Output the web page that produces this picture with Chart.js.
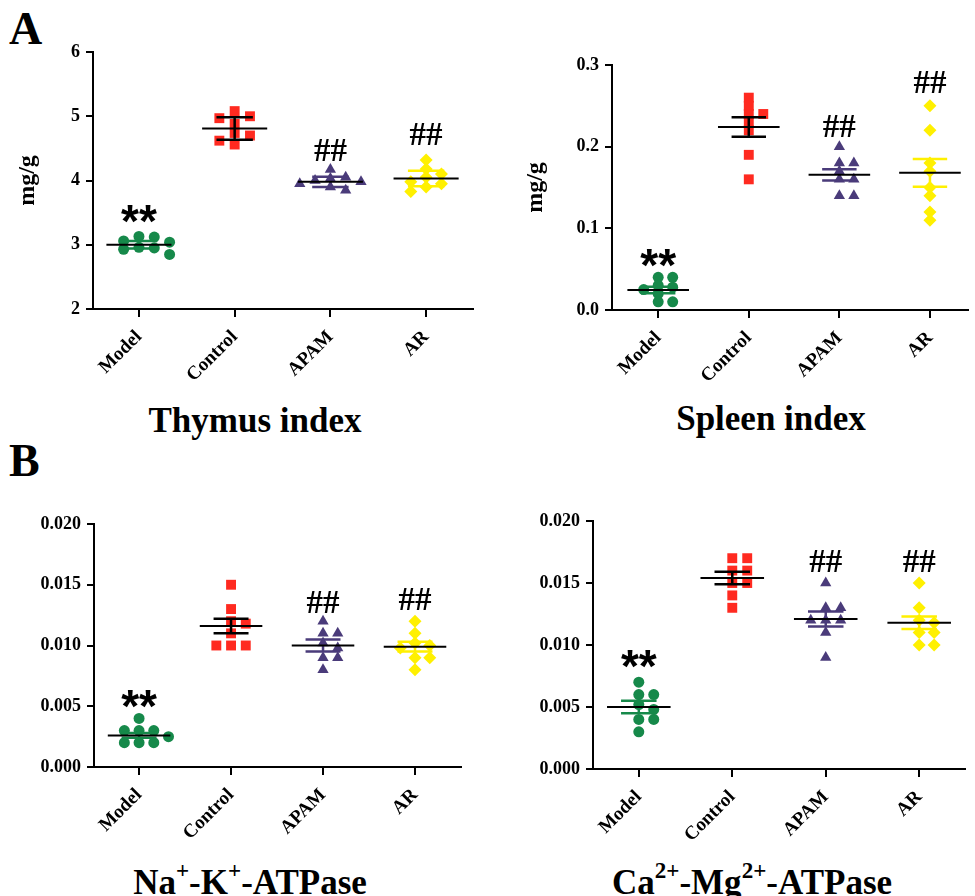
<!DOCTYPE html>
<html>
<head>
<meta charset="UTF-8">
<title>Organ index and ATPase</title>
<script src="https://cdn.jsdelivr.net/npm/chart.js"></script>
<style>
  body { margin: 0; background: #fff; }
  #page { position: relative; width: 975px; height: 896px; overflow: hidden;
          font-family: "Liberation Serif", serif; font-weight: bold; color: #000; }
  canvas { position: absolute; }
  .letter { position: absolute; font-size: 46px; line-height: 50px; }
  .title { position: absolute; font-size: 35px; line-height: 40px; text-align: center; white-space: nowrap; }
  .title sup { font-size: 0.66em; position: relative; top: -0.15em; vertical-align: super; line-height: 0; }
</style>
</head>
<body>
<div id="page">
    <div class="letter" style="left:9px; top:4px;">A</div>
    <div class="letter" style="left:9px; top:436px;">B</div>

    <canvas id="thymus" width="480" height="360" style="left:0px; top:30px;"></canvas>
    <canvas id="spleen" width="485" height="360" style="left:490px; top:30px;"></canvas>
    <canvas id="nak" width="480" height="360" style="left:0px; top:490px;"></canvas>
    <canvas id="camg" width="485" height="360" style="left:490px; top:490px;"></canvas>

    <div class="title" style="left:105px; width:300px; top:401px;">Thymus index</div>
    <div class="title" style="left:621px; width:300px; top:399px;">Spleen index</div>
    <div class="title" style="left:80px; width:340px; top:863px;">Na<sup>+</sup>-K<sup>+</sup>-ATPase</div>
    <div class="title" style="left:572px; width:360px; top:863px;">Ca<sup>2+</sup>-Mg<sup>2+</sup>-ATPase</div>
</div>

<script>
    const categories = ['Model', 'Control', 'APAM', 'AR'];

    // Thymus index (mg/g)
    const thymusModel   = [3.13, 3.12, 3.06, 3.04, 2.96, 2.95, 2.93, 2.85];
    const thymusControl = [5.08, 5.00, 4.97, 4.88, 4.74, 4.70, 4.62, 4.56];
    const thymusApam    = [4.17, 4.05, 4.03, 4.00, 3.98, 3.95, 3.90, 3.85];
    const thymusAr      = [4.32, 4.18, 4.10, 4.05, 3.98, 3.95, 3.90, 3.83];
    const thymusMean    = [3.00, 4.81, 3.98, 4.03];
    const thymusSem     = [0.06, 0.175, 0.08, 0.12];
    const thymusMarkY   = [3.48, null, 4.47, 4.73];

    // Spleen index (mg/g)
    const spleenModel   = [0.040, 0.040, 0.030, 0.028, 0.025, 0.020, 0.010, 0.010];
    const spleenControl = [0.26, 0.25, 0.24, 0.24, 0.23, 0.22, 0.19, 0.16];
    const spleenApam    = [0.20, 0.18, 0.18, 0.17, 0.16, 0.16, 0.14, 0.14];
    const spleenAr      = [0.25, 0.22, 0.18, 0.17, 0.15, 0.14, 0.12, 0.11];
    const spleenMean    = [0.0245, 0.224, 0.1655, 0.168];
    const spleenSem     = [0.004, 0.012, 0.007, 0.017];
    const spleenMarkY   = [0.064, null, 0.225, 0.279];

    // Na+-K+-ATPase
    const nakModel   = [0.0040, 0.0030, 0.0030, 0.0030, 0.0025, 0.0020, 0.0020, 0.0020];
    const nakControl = [0.0150, 0.0130, 0.0120, 0.0118, 0.0110, 0.0100, 0.0100, 0.0100];
    const nakApam    = [0.0120, 0.0110, 0.0110, 0.0102, 0.0098, 0.0090, 0.0090, 0.0080];
    const nakAr      = [0.0120, 0.0110, 0.0102, 0.0100, 0.0098, 0.0090, 0.0090, 0.0080];
    const nakMean    = [0.0026, 0.0116, 0.0100, 0.0099];
    const nakSem     = [0.0002, 0.0006, 0.0005, 0.0004];
    const nakMarkY   = [0.0056, null, 0.0136, 0.0138];

    // Ca2+-Mg2+-ATPase
    const camgModel   = [0.0070, 0.0060, 0.0060, 0.0052, 0.0048, 0.0040, 0.0040, 0.0030];
    const camgControl = [0.0170, 0.0170, 0.0160, 0.0160, 0.0150, 0.0150, 0.0140, 0.0130];
    const camgApam    = [0.0150, 0.0130, 0.0130, 0.0120, 0.0120, 0.0120, 0.0110, 0.0090];
    const camgAr      = [0.0150, 0.0130, 0.0120, 0.0118, 0.0110, 0.0110, 0.0100, 0.0100];
    const camgMean    = [0.0050, 0.0154, 0.0121, 0.0118];
    const camgSem     = [0.0005, 0.0005, 0.0006, 0.0005];
    const camgMarkY   = [0.0089, null, 0.0168, 0.0168];

    const marks = ['**', '', '##', '##'];

    const pointColors = ['#16894a', '#ff2a20', '#4a3b7a', '#fff000'];
    const errColors = ['#16894a', '#000000', '#4a3b7a', '#fff000'];
    const pointStyles = ['circle', 'rect', 'triangle', 'rectRot'];
    const pointSizes = [5.5, 7, 6.5, 6.5];
    const serif = '"Liberation Serif", serif';

    // spread points sideways where they would overlap (simple beeswarm)
    function swarm(values, gi, yRange) {
        const step = 0.16;
        const tol = yRange * 0.032;
        const placed = [];
        const order = values.map((v, i) => i).sort((a, b) => values[b] - values[a]);
        order.forEach(i => {
            const v = values[i];
            let spot = null;
            for (const k of [0, 1, -1, 2, -2]) {
                const x = k * step;
                const hit = placed.some(p => Math.abs(p.y - v) < tol && Math.abs(p.dx - x) < step * 0.9);
                if (!hit) { spot = x; break; }
            }
            if (spot === null) spot = (placed.length % 2 ? 0.5 : -0.5) * step;
            placed.push({ dx: spot, y: v });
        });
        return placed.map(p => ({ x: gi + p.dx, y: p.y }));
    }

    const summaryPlugin = {
        id: 'summary',
        afterDatasetsDraw(chart, args, opts) {
            const xs = chart.scales.x, ys = chart.scales.y, ctx = chart.ctx;
            ctx.save();
            opts.mean.forEach((m, i) => {
                const cx = xs.getPixelForValue(i);
                const hw = xs.getPixelForValue(i + 0.34) - cx;
                const cw = xs.getPixelForValue(i + 0.19) - cx;
                const yt = ys.getPixelForValue(m + opts.sem[i]);
                const yb = ys.getPixelForValue(m - opts.sem[i]);
                ctx.strokeStyle = errColors[i];
                ctx.lineWidth = 2.5;
                ctx.beginPath();
                ctx.moveTo(cx, yt); ctx.lineTo(cx, yb);
                ctx.moveTo(cx - cw, yt); ctx.lineTo(cx + cw, yt);
                ctx.moveTo(cx - cw, yb); ctx.lineTo(cx + cw, yb);
                ctx.stroke();
                const ym = ys.getPixelForValue(m);
                ctx.strokeStyle = '#000';
                ctx.lineWidth = 2;
                ctx.beginPath();
                ctx.moveTo(cx - hw, ym); ctx.lineTo(cx + hw, ym);
                ctx.stroke();
            });
            ctx.fillStyle = '#000';
            ctx.textAlign = 'center';
            opts.markY.forEach((v, i) => {
                if (v === null) return;
                const txt = marks[i];
                ctx.font = txt === '**' ? 'bold 46px "Liberation Sans", sans-serif' : 'bold 33px ' + serif;
                const mt = ctx.measureText(txt);
                const yc = ys.getPixelForValue(v);
                const yb = yc + (mt.actualBoundingBoxAscent - mt.actualBoundingBoxDescent) / 2;
                ctx.fillText(txt, xs.getPixelForValue(i), yb);
            });
            ctx.restore();
        }
    };

    const panels = [
        { id: 'thymus', groups: [thymusModel, thymusControl, thymusApam, thymusAr], mean: thymusMean, sem: thymusSem, markY: thymusMarkY,
          yMin: 2, yMax: 6, step: 1, digits: 0, yTitle: 'mg/g', xMin: -0.48, xMax: 3.49,
          yWidth: 93, xHeight: 81, padTop: 22, padRight: 7, titlePad: 13 },
        { id: 'spleen', groups: [spleenModel, spleenControl, spleenApam, spleenAr], mean: spleenMean, sem: spleenSem, markY: spleenMarkY,
          yMin: 0, yMax: 0.3, step: 0.1, digits: 1, yTitle: 'mg/g', xMin: -0.51, xMax: 3.42,
          yWidth: 122, xHeight: 80, padTop: 35, padRight: 0, titlePad: 31 },
        { id: 'nak', groups: [nakModel, nakControl, nakApam, nakAr], mean: nakMean, sem: nakSem, markY: nakMarkY,
          yMin: 0, yMax: 0.02, step: 0.005, digits: 3, yTitle: '', xMin: -0.49, xMax: 3.5,
          yWidth: 94, xHeight: 83, padTop: 34, padRight: 19, titlePad: 0 },
        { id: 'camg', groups: [camgModel, camgControl, camgApam, camgAr], mean: camgMean, sem: camgSem, markY: camgMarkY,
          yMin: 0, yMax: 0.02, step: 0.005, digits: 3, yTitle: '', xMin: -0.49, xMax: 3.49,
          yWidth: 103, xHeight: 81, padTop: 31, padRight: 10, titlePad: 0 }
    ];

    panels.forEach(p => {
        const yRange = p.yMax - p.yMin;
        const datasets = p.groups.map((vals, gi) => ({
            label: categories[gi],
            data: swarm(vals, gi, yRange),
            pointStyle: pointStyles[gi],
            pointRadius: pointSizes[gi],
            backgroundColor: pointColors[gi],
            borderColor: pointColors[gi],
            borderWidth: 0
        }));

        new Chart(document.getElementById(p.id), {
            type: 'scatter',
            data: { datasets: datasets },
            options: {
                responsive: false,
                animation: false,
                layout: { padding: { top: p.padTop, right: p.padRight, left: 0, bottom: 0 } },
                plugins: {
                    legend: { display: false },
                    tooltip: { enabled: false },
                    summary: { mean: p.mean, sem: p.sem, markY: p.markY }
                },
                scales: {
                    x: {
                        type: 'linear',
                        min: p.xMin,
                        max: p.xMax,
                        afterBuildTicks: s => { s.ticks = categories.map((c, i) => ({ value: i })); },
                        afterFit: s => { s.height = p.xHeight; },
                        grid: { drawOnChartArea: false, drawTicks: true, tickLength: 8, color: '#000', lineWidth: 2 },
                        border: { color: '#000', width: 2 },
                        ticks: {
                            color: '#000',
                            minRotation: 45,
                            maxRotation: 45,
                            padding: 9,
                            font: { family: serif, size: 19, weight: 'bold' },
                            callback: v => categories[v]
                        }
                    },
                    y: {
                        min: p.yMin,
                        max: p.yMax,
                        afterFit: s => { s.width = p.yWidth; },
                        grid: { drawOnChartArea: false, drawTicks: true, tickLength: 7, color: '#000', lineWidth: 2 },
                        border: { color: '#000', width: 2 },
                        ticks: {
                            color: '#000',
                            stepSize: p.step,
                            padding: 6,
                            font: { family: serif, size: 18, weight: 'bold' },
                            callback: v => v.toFixed(p.digits)
                        },
                        title: {
                            display: p.yTitle !== '',
                            text: p.yTitle,
                            color: '#000',
                            font: { family: serif, size: 24, weight: 'bold' },
                            padding: { top: p.titlePad, bottom: 0 }
                        }
                    }
                }
            },
            plugins: [summaryPlugin]
        });
    });
</script>
</body>
</html>
